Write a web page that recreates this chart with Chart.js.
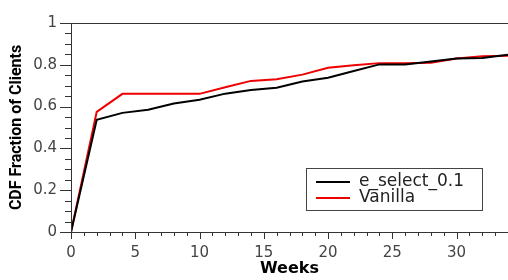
<!DOCTYPE html>
<html>
<head>
<meta charset="utf-8">
<script src="https://cdn.jsdelivr.net/npm/chart.js@4.4.1/dist/chart.umd.min.js"></script>
<style>
  html, body { margin: 0; padding: 0; background: #fff; }
  #wrap { width: 508px; height: 280px; position: relative; }
</style>
</head>
<body>
<div id="wrap"><canvas id="cdfChart" width="508" height="280"></canvas></div>
<script>
const weeks = [0, 2, 4, 6, 8, 10, 12, 14, 16, 18, 20, 22, 24, 26, 28, 30, 32, 34];
const eSelect = [0, 0.537, 0.570, 0.585, 0.615, 0.633, 0.662, 0.679, 0.690, 0.720, 0.738, 0.770, 0.802, 0.802, 0.816, 0.830, 0.832, 0.848];
const vanilla = [0, 0.575, 0.661, 0.661, 0.661, 0.661, 0.693, 0.723, 0.731, 0.753, 0.786, 0.798, 0.808, 0.808, 0.810, 0.830, 0.841, 0.843];
const xTicks = [0, 5, 10, 15, 20, 25, 30];
const yTicks = [0, 0.2, 0.4, 0.6, 0.8, 1];

const axisColor = '#333';

// minor/major ticks, top border and the boxed legend
const decorPlugin = {
  id: 'decor',
  afterDraw(chart) {
    const ctx = chart.ctx;
    const xs = chart.scales.x, ys = chart.scales.y;
    const area = chart.chartArea;
    ctx.save();
    ctx.strokeStyle = axisColor;
    ctx.lineWidth = 1;
    ctx.beginPath();
    // axes + top border
    ctx.moveTo(area.left + 0.5, area.top);
    ctx.lineTo(area.left + 0.5, area.bottom);
    ctx.moveTo(area.left, Math.round(area.bottom) + 0.5);
    ctx.lineTo(area.right, Math.round(area.bottom) + 0.5);
    ctx.moveTo(area.left, Math.round(area.top) + 0.5);
    ctx.lineTo(area.right, Math.round(area.top) + 0.5);
    // x ticks every week
    for (let w = 0; w <= xs.max; w++) {
      const px = Math.round(xs.getPixelForValue(w)) + 0.5;
      const len = w % 5 === 0 ? 7 : 4;
      ctx.moveTo(px, area.bottom);
      ctx.lineTo(px, area.bottom + len);
    }
    // y ticks every 0.05
    for (let i = 0; i <= 20; i++) {
      const py = Math.round(ys.getPixelForValue(i * 0.05)) + 0.5;
      const len = i % 4 === 0 ? 11 : 6;
      ctx.moveTo(area.left, py);
      ctx.lineTo(area.left - len, py);
    }
    ctx.stroke();

    // legend box
    const bx = 306, by = 168, bw = 176, bh = 42;
    ctx.fillStyle = '#fff';
    ctx.fillRect(bx, by, bw, bh);
    ctx.strokeStyle = '#444';
    ctx.strokeRect(bx + 0.5, by + 0.5, bw, bh);
    ctx.font = '17px "DejaVu Sans"';
    ctx.textBaseline = 'middle';
    chart.data.datasets.forEach((ds, i) => {
      const ly = by + 14 + i * 16;
      ctx.strokeStyle = ds.borderColor;
      ctx.lineWidth = 2;
      ctx.beginPath();
      ctx.moveTo(316, ly);
      ctx.lineTo(350, ly);
      ctx.stroke();
      ctx.fillStyle = '#222';
      ctx.fillText(ds.label, 359, ly);
    });
    ctx.restore();
  }
};

new Chart(document.getElementById('cdfChart').getContext('2d'), {
  type: 'line',
  data: {
    datasets: [
      {
        label: 'e_select_0.1',
        data: weeks.map((w, i) => ({ x: w, y: eSelect[i] })),
        borderColor: '#000',
        borderWidth: 2,
        pointRadius: 0,
        tension: 0
      },
      {
        label: 'Vanilla',
        data: weeks.map((w, i) => ({ x: w, y: vanilla[i] })),
        borderColor: '#e00',
        borderWidth: 2,
        pointRadius: 0,
        tension: 0
      }
    ]
  },
  options: {
    responsive: false,
    animation: false,
    devicePixelRatio: 1,
    layout: { padding: { top: 8, right: 0, left: 0, bottom: 0 } },
    plugins: { legend: { display: false }, tooltip: { enabled: false } },
    scales: {
      x: {
        type: 'linear',
        min: 0,
        max: 34,
        afterBuildTicks: s => { s.ticks = xTicks.map(v => ({ value: v })); },
        afterFit: s => { s.height = 48; },
        grid: { display: false, drawTicks: false },
        border: { display: false },
        ticks: { padding: 12, color: '#444', font: { family: 'DejaVu Sans', size: 15 }, callback: v => String(v) },
        title: {
          display: true, text: 'Weeks', color: '#000',
          font: { family: 'DejaVu Sans', size: 16, weight: 'bold' },
          padding: { top: 0, bottom: 2 }
        }
      },
      y: {
        min: 0,
        max: 1,
        afterBuildTicks: s => { s.ticks = yTicks.map(v => ({ value: v })); },
        afterFit: s => { s.width = 71; },
        grid: { display: false, drawTicks: false },
        border: { display: false },
        ticks: { padding: 14, color: '#444', font: { family: 'DejaVu Sans', size: 15 }, callback: v => String(v) },
        title: {
          display: true, text: 'CDF Fraction of Clients', color: '#000',
          font: { family: 'Roboto', size: 16, weight: 'bold' },
          padding: { top: 7, bottom: 0 }
        }
      }
    }
  },
  plugins: [decorPlugin]
});
</script>
</body>
</html>
